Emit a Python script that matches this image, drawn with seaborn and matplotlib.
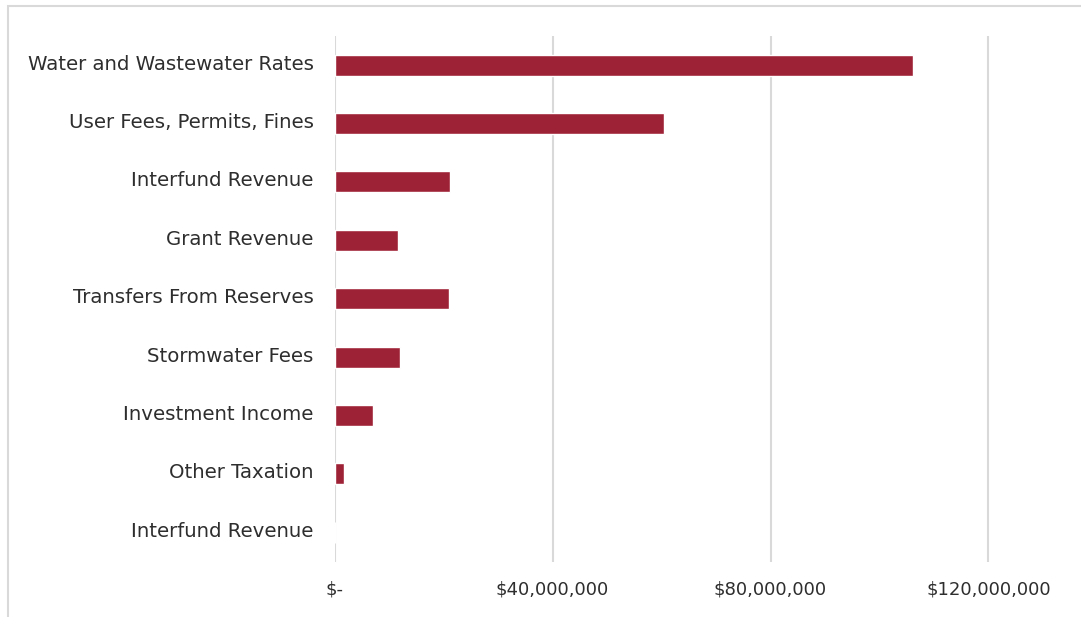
import matplotlib
matplotlib.use("Agg")
import matplotlib.pyplot as plt
from matplotlib.patches import Rectangle
from matplotlib.ticker import FuncFormatter
from matplotlib.transforms import ScaledTranslation
import seaborn as sns
import pandas as pd

# Revenue sources, top to bottom
sources = [
    "Water and Wastewater Rates",
    "User Fees, Permits, Fines",
    "Interfund Revenue",
    "Grant Revenue",
    "Transfers From Reserves",
    "Stormwater Fees",
    "Investment Income",
    "Other Taxation",
    "Interfund Revenue",
]
amounts = [106_100_000, 60_400_000, 21_200_000, 11_700_000, 21_000_000,
           12_000_000, 7_100_000, 1_700_000, 0]
x_ticks = [0, 40_000_000, 80_000_000, 120_000_000]

sns.set_theme(style="white")
plt.rcParams["font.family"] = ["DejaVu Sans"]

# Duplicate names appear, so each row gets its own key
df = pd.DataFrame({"row": [str(i) for i in range(len(sources))], "amount": amounts})

fig = plt.figure(figsize=(10.81, 6.17), dpi=100)
ax = fig.add_axes([334.5 / 1081, 1 - 561.5 / 617, 1 - 334.5 / 1081, (561.5 - 36) / 617])

sns.barplot(data=df, x="amount", y="row", orient="h", color="#9E2236",
            saturation=1, width=0.36, ax=ax, zorder=3)

ax.set_xlim(0, (1081 - 334.5) / 5.45 * 1e6)
ax.set_ylim(len(sources) - 0.5, -0.5)
ax.set_xticks(x_ticks)
ax.xaxis.set_major_formatter(FuncFormatter(lambda v, p: "$-" if v == 0 else f"${v:,.0f}"))
ax.set_yticks(range(len(sources)))
ax.set_yticklabels(sources)
ax.set_xlabel("")
ax.set_ylabel("")

ax.grid(axis="x", color="#D9D9D9", linewidth=1.5, zorder=0)
ax.grid(axis="y", visible=False)
for s in ax.spines.values():
    s.set_visible(False)
ax.tick_params(axis="y", length=0, pad=15, labelsize=14.2, labelcolor="#2E2E2E")
ax.tick_params(axis="x", length=0, pad=14, labelsize=13, labelcolor="#2E2E2E")

# Nudge category labels up slightly
shift = ScaledTranslation(0, 3 / 100, fig.dpi_scale_trans)
for lbl in ax.get_yticklabels():
    lbl.set_transform(lbl.get_transform() + shift)

# Chart frame
fig.patches.append(Rectangle((8 / 1081, -0.05), 1.2, 1 - 6 / 617 + 0.05,
                             transform=fig.transFigure, fill=False,
                             edgecolor="#D9D9D9", linewidth=1.5, zorder=0))

fig.savefig("out.png", dpi=100)
